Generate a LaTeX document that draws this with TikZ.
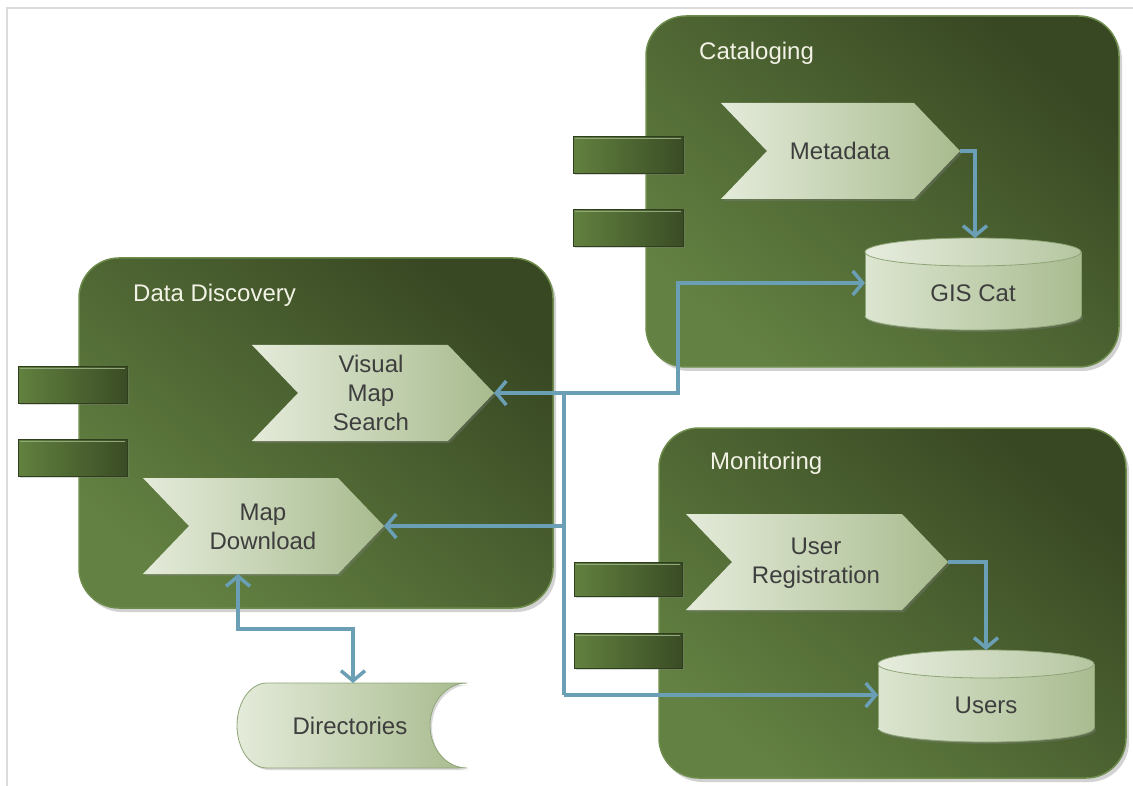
\documentclass[tikz,border=0pt]{standalone}
\usepackage{fontspec}
\setmainfont{Liberation Sans}
\usetikzlibrary{shadows,arrows.meta}
\definecolor{boxdark}{HTML}{384823}
\definecolor{boxlight}{HTML}{638142}
\definecolor{rimcol}{HTML}{6E8C4C}
\definecolor{chevl}{HTML}{E4EBDA}
\definecolor{chevr}{HTML}{A8BB8E}
\definecolor{cyll}{HTML}{DCE5D0}
\definecolor{cylr}{HTML}{A9BC90}
\definecolor{cyledge}{HTML}{8FA577}
\definecolor{conncol}{HTML}{6A9FB6}
\definecolor{txtcol}{HTML}{3E3E3E}
\definecolor{ttlcol}{HTML}{F2F3E6}
\definecolor{tabl}{HTML}{62813F}
\definecolor{tabr}{HTML}{3A4C25}
\definecolor{tabedge}{HTML}{2F3E1C}
\definecolor{framecol}{HTML}{DCDCDC}

\newcommand{\mkchev}[5]{%
  \path[chevron] (#2,#3) -- ({#4-46},#3) -- (#4,{(#3+#5)/2}) -- ({#4-46},#5) -- (#2,#5) -- ({#2+46},{(#3+#5)/2}) -- cycle;
  \coordinate (#1-tip) at (#4,{(#3+#5)/2});}

\newcommand{\mkcyl}[5]{%
  \pgfmathsetmacro\cylcx{(#2+#4)/2}%
  \pgfmathsetmacro\cylrx{(#4-#2)/2}%
  \path[cylbottom] (\cylcx,{#5-14}) ellipse [x radius=\cylrx pt, y radius=14pt];
  \path[cylside] (#2,{#3+14}) rectangle (#4,{#5-14});
  \draw[cylline] (#2,{#3+14}) -- (#2,{#5-14}) (#4,{#3+14}) -- (#4,{#5-14});
  \path[cyltop] (\cylcx,{#3+14}) ellipse [x radius=\cylrx pt, y radius=14pt];}

\newcommand{\mktab}[4]{%
  \path[tabbox] (#1,#2) rectangle (#3,#4);
  \draw[tabl!70!white, line width=1pt] ({#1+2},{#2+2}) -- ({#3-2},{#2+2});}

\begin{document}
\begin{tikzpicture}[x=1pt,y=-1pt,
  compbox/.style={rounded corners=40pt, top color=boxdark, bottom color=boxlight, shading angle=-40,
     draw=rimcol, line width=1.5pt,
     drop shadow={shadow xshift=3pt, shadow yshift=-4pt, opacity=0.35}},
  chevron/.style={left color=chevl, right color=chevr,
     drop shadow={shadow xshift=2pt, shadow yshift=-2pt, opacity=0.35}},
  cylbottom/.style={left color=cyll, right color=cylr, draw=cyledge, line width=0.8pt,
     drop shadow={shadow xshift=2pt, shadow yshift=-2pt, opacity=0.35}},
  cylside/.style={left color=cyll, right color=cylr},
  cylline/.style={draw=cyledge, line width=0.8pt},
  cyltop/.style={left color=cyll!70!white, right color=cylr!85!white, draw=cyledge, line width=0.8pt},
  tabbox/.style={left color=tabl, right color=tabr, draw=tabedge, line width=1pt,
     drop shadow={shadow xshift=1.5pt, shadow yshift=-1.5pt, opacity=0.3}},
  dirshape/.style={left color=chevl, right color=chevr, draw=cyledge, line width=0.8pt,
     drop shadow={shadow xshift=2pt, shadow yshift=-2pt, opacity=0.3}},
  lbl/.style={font=\fontsize{24}{29}\selectfont, text=txtcol, align=center, inner sep=0pt},
  ttl/.style={font=\fontsize{24}{29}\selectfont, text=ttlcol, anchor=west, inner sep=0pt},
  conn/.style={draw=conncol, line width=3.5pt},
  tipend/.style={-{Straight Barb[length=10pt,width=24pt]}},
  bothends/.style={{Straight Barb[length=10pt,width=24pt]}-{Straight Barb[length=10pt,width=24pt]}}
]
\useasboundingbox (0,0) rectangle (1133,786);
\fill[white] (0,0) rectangle (1133,786);
\draw[framecol, line width=1.5pt] (7,786) -- (7,8) -- (1133,8);

% ---------- component boxes ----------
\path[compbox] (646,16) rectangle (1119,367);
\path[compbox] (79,258) rectangle (553,608);
\path[compbox] (659,428) rectangle (1126,778);

% tabs
\mktab{573}{137}{683}{174}
\mktab{573}{210}{683}{247}
\mktab{18}{367}{127}{403}
\mktab{18}{439}{127}{476}
\mktab{574}{562}{682}{596}
\mktab{574}{633}{682}{668}

% titles
\node[ttl] (cattitle) at (699,53) {Cataloging};
\node[ttl] (ddtitle) at (133,295) {Data Discovery};
\node[ttl] (montitle) at (710,463) {Monitoring};

% ---------- chevrons ----------
\mkchev{meta}{721}{103}{960}{199}
\mkchev{vms}{252}{345}{494}{441}
\mkchev{md}{143}{478}{384}{574}
\mkchev{ur}{686}{514}{948}{610}
\node[lbl] (metalbl) at (840,151) {Metadata};
\node[lbl] (vmslbl) at (371,393) {Visual\\Map\\Search};
\node[lbl] (mdlbl) at (263,527) {Map\\Download};
\node[lbl] (urlbl) at (816,563) {User\\Registration};

% ---------- cylinders ----------
\mkcyl{gis}{865}{238}{1081}{330}
\mkcyl{users}{878}{650}{1094}{742}
\node[lbl] (gislbl) at (973,293) {GIS Cat};
\node[lbl] (userslbl) at (986,705) {Users};

% ---------- directories ----------
\path[dirshape] (267,683) -- (467,683)
  .. controls (446.6,683) and (430,702) .. (430,725.5)
  .. controls (430,749) and (446.6,768) .. (467,768)
  -- (267,768)
  .. controls (250.4,768) and (237,749) .. (237,725.5)
  .. controls (237,702) and (250.4,683) .. (267,683) -- cycle;
\node[lbl] (dirlbl) at (350,726) {Directories};

% ---------- connector points ----------
\coordinate (gis-top) at (975,238);
\coordinate (gis-west) at (865,283);
\coordinate (users-top) at (986,650);
\coordinate (users-west) at (878,695);
\coordinate (md-bot) at (238,574);
\coordinate (dir-top) at (353,683);
\coordinate (jtop) at (564,393);
\coordinate (jgis) at (678,393);
\coordinate (jmd) at (564,526);
\coordinate (jusers) at (564,695);
\coordinate (jdir) at (238,629);

% ---------- connectors ----------
\draw[conn,tipend] (meta-tip) -| (gis-top);
\draw[conn,tipend] (ur-tip) -| (users-top);
\draw[conn,tipend] (jgis) -- (jtop) -- (vms-tip);
\draw[conn,tipend] (jtop) -- (jgis) |- (gis-west);
\draw[conn] (jtop) -- (jusers);
\draw[conn,tipend] (jmd) -- (md-tip);
\draw[conn,tipend] (jusers) -- (users-west);
\draw[conn,bothends] (md-bot) -- (jdir) -| (dir-top);
\end{tikzpicture}
\end{document}
